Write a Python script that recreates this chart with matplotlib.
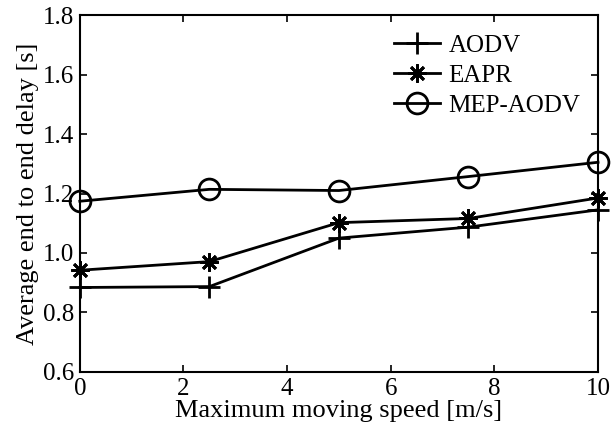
import matplotlib.pyplot as plt

plt.rcParams['font.family'] = ['Liberation Serif', 'DejaVu Serif']

speed = [0, 2.5, 5, 7.5, 10]
aodv = [0.884, 0.887, 1.05, 1.087, 1.145]
eapr = [0.942, 0.971, 1.102, 1.116, 1.185]
mep_aodv = [1.174, 1.214, 1.21, 1.257, 1.305]

x_ticks = [0, 2, 4, 6, 8, 10]
y_ticks = [0.6, 0.8, 1.0, 1.2, 1.4, 1.6, 1.8]

fig = plt.figure(figsize=(6.14, 4.3), dpi=100)
ax = fig.add_axes([0.130, 0.135, 0.844, 0.830])

LW = 2.0
ax.plot(speed, aodv, color='black', lw=LW, marker='+', ms=16, mew=2.0,
        label='AODV', clip_on=False)
ax.plot(speed, eapr, color='black', lw=LW, marker=(8, 2, 0), ms=13, mew=2.0,
        label='EAPR', clip_on=False)
ax.plot(speed, mep_aodv, color='black', lw=LW, marker='o', ms=15, mew=2.0,
        mfc='none', label='MEP-AODV', clip_on=False)

ax.set_xlim(0, 10)
ax.set_ylim(0.6, 1.8)
ax.set_xticks(x_ticks)
ax.set_yticks(y_ticks)
ax.set_yticklabels(['%.1f' % v for v in y_ticks])
ax.tick_params(direction='in', top=True, right=True, length=5, width=1.2,
               labelsize=18)
ax.tick_params(axis='x', pad=4)
ax.tick_params(axis='y', pad=4)
for s in ax.spines.values():
    s.set_linewidth(1.5)

ax.set_xlabel('Maximum moving speed [m/s]', fontsize=19, labelpad=0)
ax.set_ylabel('Average end to end delay [s]', fontsize=19, labelpad=3)

ax.legend(loc='upper right', frameon=False, fontsize=18, handlelength=1.85,
          handletextpad=0.35, labelspacing=0.3, borderaxespad=0.3,
          bbox_to_anchor=(1.0, 0.995))

fig.savefig('out.png', dpi=100)
